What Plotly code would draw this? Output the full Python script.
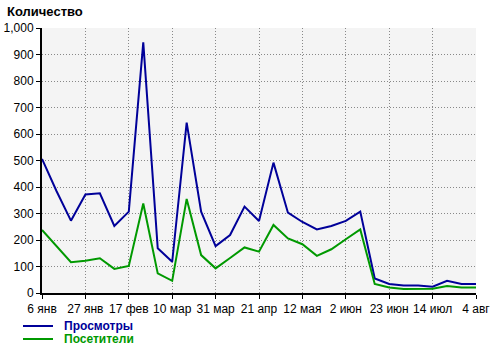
import pandas as pd
import plotly.graph_objects as go

# weekly dates (categories)
weeks = pd.date_range("2013-01-06", periods=31, freq="7D")

views = [506, 385, 273, 372, 376, 253, 307, 946, 169, 118,
         643, 307, 177, 219, 326, 272, 492, 303, 268, 240,
         253, 272, 307, 55, 34, 28, 28, 24, 46, 34, 34]
visitors = [238, 175, 116, 122, 131, 91, 102, 338, 74, 46,
            355, 143, 93, 132, 172, 156, 257, 206, 184, 140,
            165, 203, 240, 34, 21, 15, 15, 16, 26, 21, 21]

tick_dates = ["2013-01-06", "2013-01-27", "2013-02-17", "2013-03-10", "2013-03-31",
              "2013-04-21", "2013-05-12", "2013-06-02", "2013-06-23", "2013-07-14",
              "2013-08-04"]
tick_labels = ["6 янв", "27 янв", "17 фев", "10 мар", "31 мар", "21 апр",
               "12 мая", "2 июн", "23 июн", "14 июл", "4 авг"]
y_ticks = list(range(0, 1001, 100))
y_labels = [f"{v:,}" for v in y_ticks]

names = ["Просмотры", "Посетители"]
colors = ["#000099", "#009900"]

FONT = "Liberation Sans, Arial, sans-serif"

fig = go.Figure()
for vals, name, col in [(views, names[0], colors[0]), (visitors, names[1], colors[1])]:
    fig.add_trace(go.Scatter(x=weeks, y=vals, mode="lines", name=name,
                             line=dict(color=col, width=2), showlegend=False))

fig.update_layout(
    width=500, height=351,
    margin=dict(l=42, r=24, t=28, b=58),
    paper_bgcolor="white",
    plot_bgcolor="#f4f4f4",
    font=dict(family=FONT, size=12, color="black"),
)
fig.update_xaxes(
    range=[weeks[0], weeks[-1]], automargin=False,
    tickvals=tick_dates, ticktext=tick_labels,
    showgrid=True, gridcolor="#888888", griddash="1px,2px", gridwidth=1,
    showline=True, linecolor="black", linewidth=2,
    ticks="outside", ticklen=4, tickcolor="black", tickwidth=1,
    zeroline=False,
)
fig.update_yaxes(
    range=[0, 1000], automargin=False,
    tickvals=y_ticks, ticktext=y_labels,
    showgrid=True, gridcolor="#888888", griddash="1px,2px", gridwidth=1,
    showline=True, linecolor="black", linewidth=2,
    ticks="outside", ticklen=4, tickcolor="black", tickwidth=1,
    zeroline=False,
)

# title
fig.add_annotation(text="<b>Количество</b>", xref="paper", yref="paper",
                   x=-0.0853, y=1.0604, xanchor="left", yanchor="middle",
                   showarrow=False, font=dict(family=FONT, size=13, color="black"))

# manual legend
leg_y = [-0.1245, -0.1736]
for ly, name, col in zip(leg_y, names, colors):
    fig.add_shape(type="line", xref="paper", yref="paper",
                  x0=-0.0438, x1=0.0253, y0=ly, y1=ly,
                  line=dict(color=col, width=2))
    fig.add_annotation(text=f"<b>{name}</b>", xref="paper", yref="paper",
                       x=0.0461, y=ly, xanchor="left", yanchor="middle",
                       showarrow=False, font=dict(family=FONT, size=12, color=col))

fig.write_html("out.html")
